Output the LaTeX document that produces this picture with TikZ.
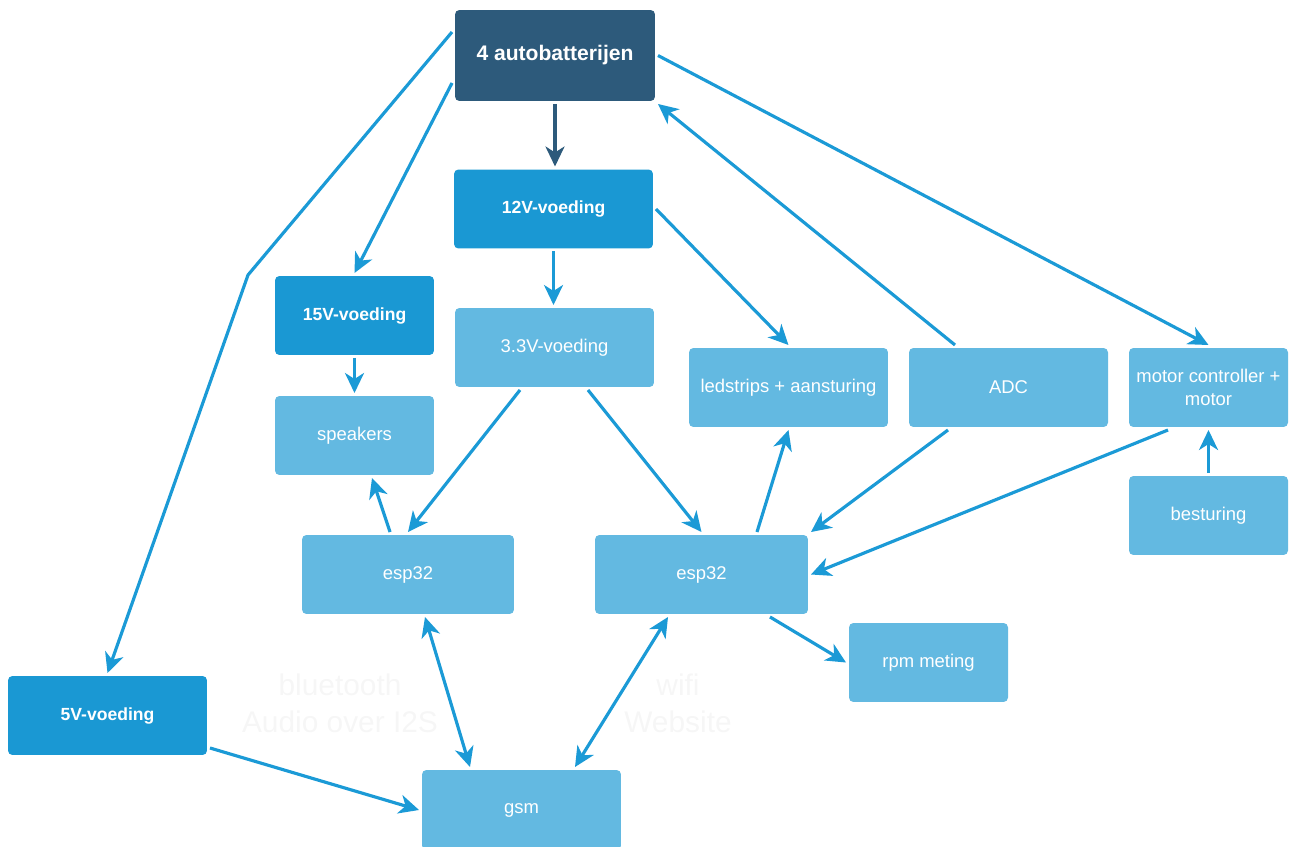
\documentclass[tikz,border=0pt]{standalone}
\usepackage{fontspec}
\setmainfont{Liberation Sans}
\usepackage{tikz}
\usetikzlibrary{arrows.meta,positioning,calc}
\definecolor{darkblue}{HTML}{2D5A7B}
\definecolor{midblue}{HTML}{1A98D3}
\definecolor{lightblue}{HTML}{63B9E1}
\definecolor{wire}{HTML}{1B9AD6}
\definecolor{faint}{HTML}{F6F6F6}

\begin{document}
\begin{tikzpicture}[x=0.02cm,y=-0.02cm,
  box/.style={rounded corners=2.5pt,text=white,align=center,outer sep=0.06cm,minimum height=1.58cm},
  topbox/.style={box,fill=darkblue,font=\fontsize{12}{14}\selectfont\bfseries,minimum width=4cm,minimum height=1.82cm},
  powerbox/.style={box,fill=midblue,font=\fontsize{10}{12}\selectfont\bfseries},
  partbox/.style={box,fill=lightblue,font=\fontsize{10.5}{13}\selectfont},
  wirearrow/.style={-{Stealth[length=4mm,width=3.8mm,inset=1.2mm]},line width=1.8pt,wire},
  both/.style={wirearrow,{Stealth[length=4mm,width=3.8mm,inset=1.2mm]}-{Stealth[length=4mm,width=3.8mm,inset=1.2mm]}},
  ghost/.style={text=faint,align=center,font=\fontsize{17}{21}\selectfont}]
\useasboundingbox (0,0) rectangle (1290,847);
\node[topbox] (bat) at (555,55.5) {4 autobatterijen};
\node[powerbox,minimum width=3.98cm] (v12) at (553.5,209) {12V-voeding};
\node[powerbox,minimum width=3.18cm] (v15) at (354.5,315.5) {15V-voeding};
\node[powerbox,minimum width=3.98cm] (v5) at (107.5,715.5) {5V-voeding};
\node[partbox,minimum width=3.98cm] (v33) at (554.5,347.5) {3.3V-voeding};
\node[partbox,minimum width=3.18cm] (spk) at (354.5,435.5) {speakers};
\node[partbox,minimum width=3.98cm] (led) at (788.5,387.5) {ledstrips + aansturing};
\node[partbox,minimum width=3.98cm] (adc) at (1008.5,387.5) {ADC};
\node[partbox,minimum width=3.18cm] (mot) at (1208.5,387.5) {motor controller +\\motor};
\node[partbox,minimum width=3.18cm] (bes) at (1208.5,515.5) {besturing};
\node[partbox,minimum width=4.24cm] (espL) at (408,574.5) {esp32};
\node[partbox,minimum width=4.26cm] (espR) at (701.5,574.5) {esp32};
\node[partbox,minimum width=3.18cm] (rpm) at (928.5,662.5) {rpm meting};
\node[partbox,minimum width=3.98cm,minimum height=1.6cm] (gsm) at (521.5,810) {gsm};
\node[ghost] (bt) at (340,703) {bluetooth\\Audio over I2S};
\node[ghost] (wifi) at (678,703) {wifi\\Website};
\coordinate (bend5) at (248,275);
\draw[wirearrow,darkblue] (bat.south) -- (bat.south |- v12.north);
\draw[wirearrow] ([yshift=0.47cm]bat.west) -- (bend5) -- (v5.north);
\draw[wirearrow] ([yshift=-0.55cm]bat.west) -- (v15.north);
\draw[wirearrow] (bat.east) -- (mot.north);
\draw[wirearrow] ([xshift=-1.07cm]adc.north) -- (bat.south east);
\draw[wirearrow] (v12.east) -- (led.north);
\draw[wirearrow] (v12.south) -- (v12.south |- v33.north);
\draw[wirearrow] ([xshift=-0.69cm]v33.south) -- (espL.north);
\draw[wirearrow] ([xshift=0.67cm]v33.south) -- (espR.north);
\draw[wirearrow] ([xshift=-0.36cm]espL.north) -- ([xshift=0.35cm]spk.south);
\draw[wirearrow] ([xshift=1.11cm]espR.north) -- (led.south);
\draw[wirearrow] ([xshift=-1.21cm]adc.south) -- (espR.north east);
\draw[wirearrow] ([xshift=-0.81cm]mot.south) -- (espR.east);
\draw[wirearrow] ([xshift=1.37cm]espR.south) -- (rpm.west);
\draw[wirearrow] ([yshift=-0.65cm]v5.east) -- (gsm.west);
\foreach \a/\b in {v15.south/spk.north,bes.north/mot.south}{\draw[wirearrow] (\a) -- (\b);}
\draw[both] ([xshift=0.34cm]espL.south) -- ([xshift=-1.03cm]gsm.north);
\draw[both] ([xshift=-0.67cm]espR.south) -- ([xshift=1.07cm]gsm.north);
\end{tikzpicture}
\end{document}
